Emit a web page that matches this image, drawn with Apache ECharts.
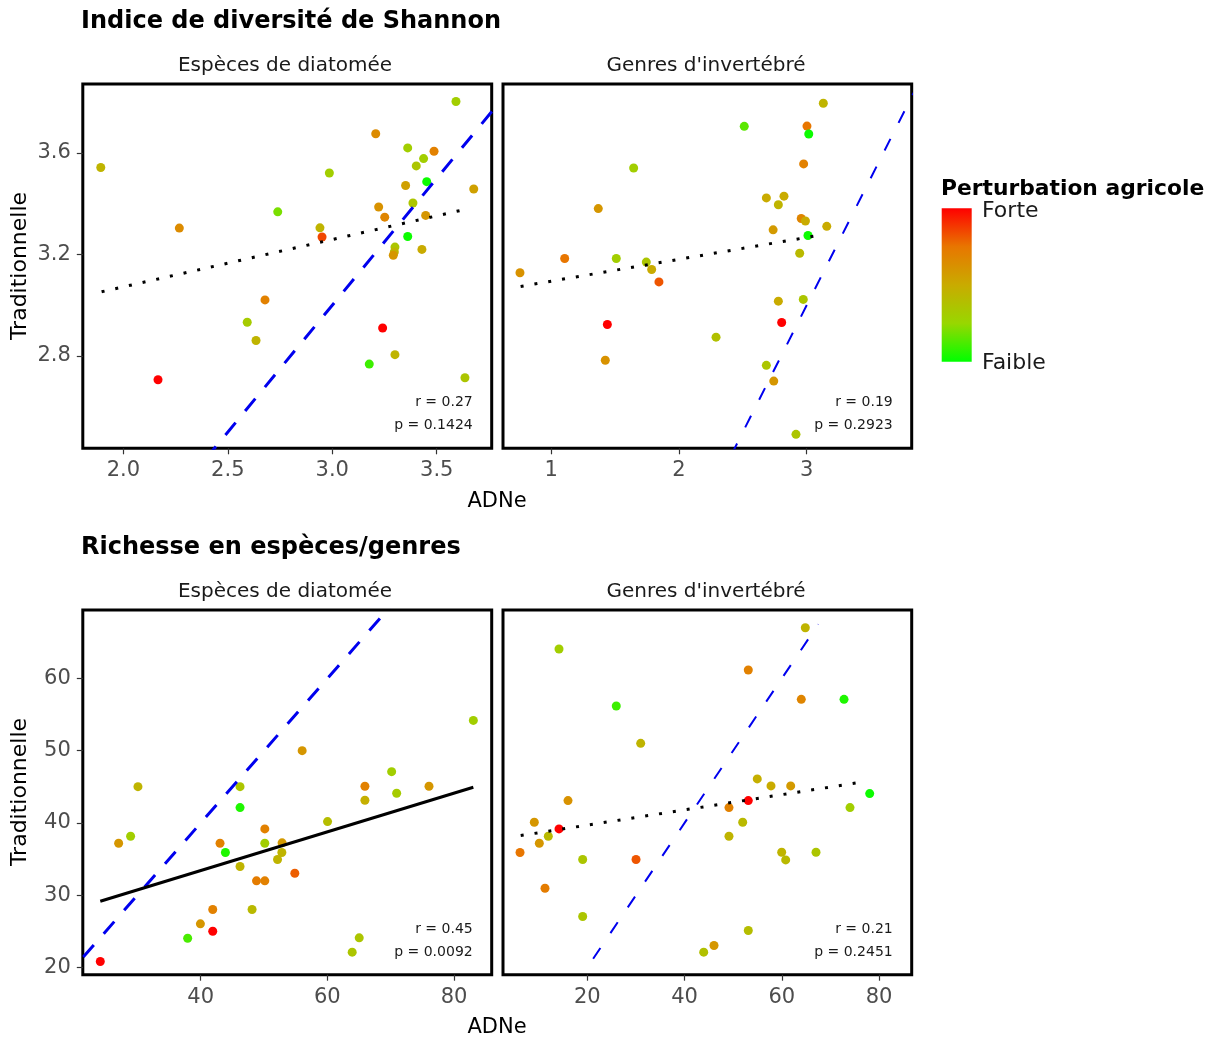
<!DOCTYPE html>
<html>
<head>
<meta charset="utf-8">
<script src="https://cdn.jsdelivr.net/npm/echarts@6/dist/echarts.min.js"></script>
<style>
html,body{margin:0;padding:0;background:#ffffff;}
#chart{width:1214px;height:1041px;}
</style>
</head>
<body>
<div id="chart"></div>
<script>
// ---------------- DATA ----------------
const sectionTitles = ['Indice de diversité de Shannon', 'Richesse en espèces/genres'];
const facetTitles = ['Espèces de diatomée', "Genres d'invertébré"];
const xAxisTitle = 'ADNe';
const yAxisTitle = 'Traditionnelle';
const legendTitle = 'Perturbation agricole';
const legendHigh = 'Forte';
const legendLow = 'Faible';

// tick labels
const xTicksShannonDiatom = [2.0, 2.5, 3.0, 3.5];
const xTicksShannonInvert = [1, 2, 3];
const yTicksShannon = [2.8, 3.2, 3.6];
const xTicksRichDiatom = [40, 60, 80];
const xTicksRichInvert = [20, 40, 60, 80];
const yTicksRich = [20, 30, 40, 50, 60];

// points: [ADNe, Traditionnelle, perturbation agricole (0 = faible, 1 = forte)]
const shannonDiatom = [
  [1.892, 3.543, 0.45], [2.739, 3.368, 0.20], [2.268, 3.304, 0.65], [2.678, 3.021, 0.70],
  [2.593, 2.933, 0.32], [2.635, 2.861, 0.45], [2.166, 2.706, 1.00], [3.592, 3.803, 0.30],
  [3.208, 3.676, 0.65], [3.361, 3.620, 0.30], [3.487, 3.607, 0.70], [3.437, 3.578, 0.30],
  [3.402, 3.549, 0.35], [2.986, 3.521, 0.30], [3.452, 3.487, 0.02], [3.351, 3.472, 0.55],
  [3.677, 3.458, 0.55], [3.386, 3.403, 0.35], [3.222, 3.387, 0.62], [3.251, 3.347, 0.68],
  [3.447, 3.354, 0.60], [2.941, 3.305, 0.45], [2.951, 3.269, 0.85], [3.361, 3.271, 0.02],
  [3.300, 3.229, 0.35], [3.297, 3.210, 0.45], [3.292, 3.197, 0.60], [3.429, 3.220, 0.50],
  [3.241, 2.910, 1.00], [3.300, 2.805, 0.45], [3.177, 2.768, 0.10], [3.635, 2.714, 0.35]
];
const shannonInvert = [
  [1.645, 3.541, 0.30], [1.368, 3.381, 0.60], [1.105, 3.184, 0.75], [1.509, 3.184, 0.30],
  [1.744, 3.170, 0.35], [1.786, 3.141, 0.50], [1.843, 3.092, 0.82], [0.755, 3.128, 0.62],
  [1.439, 2.924, 1.00], [1.423, 2.783, 0.62], [2.290, 2.874, 0.38], [3.130, 3.796, 0.45],
  [2.511, 3.705, 0.15], [3.002, 3.706, 0.75], [3.016, 3.675, 0.02], [2.976, 3.557, 0.70],
  [2.684, 3.423, 0.50], [2.822, 3.430, 0.50], [2.778, 3.396, 0.45], [2.957, 3.342, 0.68],
  [2.990, 3.332, 0.50], [2.737, 3.297, 0.58], [3.157, 3.311, 0.50], [3.010, 3.275, 0.02],
  [2.945, 3.205, 0.42], [2.778, 3.016, 0.50], [2.973, 3.023, 0.35], [2.804, 2.932, 1.00],
  [2.684, 2.763, 0.35], [2.742, 2.701, 0.60], [2.916, 2.491, 0.35]
];
const richDiatom = [
  [24.14, 20.83, 1.00], [30.09, 45.03, 0.45], [27.04, 37.19, 0.60], [28.93, 38.16, 0.30],
  [46.21, 45.03, 0.35], [46.21, 42.13, 0.05], [43.05, 37.19, 0.70], [43.90, 35.91, 0.05],
  [50.12, 39.18, 0.70], [50.12, 37.19, 0.30], [46.21, 33.97, 0.45], [48.81, 31.99, 0.72],
  [50.12, 31.99, 0.70], [52.85, 37.25, 0.58], [52.81, 35.91, 0.45], [52.13, 34.94, 0.45],
  [41.90, 28.02, 0.70], [48.11, 28.02, 0.42], [39.95, 26.04, 0.60], [41.90, 25.02, 1.00],
  [37.94, 24.05, 0.12], [83.05, 54.20, 0.30], [56.02, 50.01, 0.60], [70.15, 47.10, 0.30],
  [65.93, 45.08, 0.70], [76.05, 45.08, 0.60], [70.94, 44.11, 0.32], [65.93, 43.14, 0.48],
  [60.03, 40.19, 0.40], [54.86, 33.04, 0.80], [65.03, 24.10, 0.35], [63.92, 22.12, 0.35]
];
const richInvert = [
  [14.18, 64.08, 0.30], [25.96, 56.20, 0.10], [30.98, 51.02, 0.45], [16.03, 43.10, 0.62],
  [9.10, 40.10, 0.60], [14.18, 39.18, 1.00], [11.98, 38.16, 0.42], [10.13, 37.19, 0.60],
  [6.16, 35.91, 0.75], [19.05, 34.94, 0.35], [30.02, 34.94, 0.82], [11.30, 30.97, 0.72],
  [19.05, 27.05, 0.35], [43.94, 22.12, 0.38], [64.84, 67.03, 0.45], [53.11, 61.18, 0.70],
  [64.01, 57.11, 0.68], [72.80, 57.11, 0.05], [54.96, 46.10, 0.48], [57.78, 45.13, 0.50],
  [61.83, 45.13, 0.58], [78.08, 44.07, 0.02], [49.14, 42.13, 0.70], [53.11, 43.10, 1.00],
  [74.03, 42.13, 0.30], [51.96, 40.10, 0.42], [49.14, 38.16, 0.45], [59.98, 35.95, 0.45],
  [60.80, 34.89, 0.42], [67.04, 35.95, 0.35], [53.11, 25.12, 0.40], [46.06, 23.04, 0.60]
];

// regression lines (endpoints)
const fitShannonDiatom = [[1.896, 3.053], [3.659, 3.382]];
const fitShannonInvert = [[0.760, 3.074], [3.136, 3.279]];
const fitRichDiatom = [[24.14, 29.17], [83.05, 44.94]];
const fitRichInvert = [[6.3, 38.26], [77.12, 45.73]];

// 1:1 reference lines (y = x)
const identityShannonDiatom = [[2.3, 2.3], [3.9, 3.9]];
const identityShannonInvert = [[2.3, 2.3], [3.9, 3.9]];
const identityRichDiatom = [[15, 15], [75, 75]];
const identityRichInvert = [[21.2, 21.2], [67.5, 67.5]];

// correlation statistics
const statsShannonDiatom = ['r = 0.27', 'p = 0.1424'];
const statsShannonInvert = ['r = 0.19', 'p = 0.2923'];
const statsRichDiatom = ['r = 0.45', 'p = 0.0092'];
const statsRichInvert = ['r = 0.21', 'p = 0.2451'];

// ---------------- LAYOUT / STYLE ----------------
const FONT = '"DejaVu Sans", sans-serif';
const gradientColors = ['#00FF00', '#98D700', '#C9AB00', '#E87600', '#FF0000'];

const panels = [
  { grid: {left: 82.8, top: 84, width: 408.9, height: 364.3},
    x: [1.806, 3.763], y: [2.436, 3.872], xTicks: xTicksShannonDiatom, yTicks: yTicksShannon,
    xDec: 1, yDec: 1, pts: shannonDiatom, fit: fitShannonDiatom, fitSolid: false,
    id: identityShannonDiatom, idW: 3, idDash: [16, 15], stats: statsShannonDiatom, showY: true },
  { grid: {left: 503, top: 84, width: 408.7, height: 364.3},
    x: [0.622, 3.822], y: [2.436, 3.872], xTicks: xTicksShannonInvert, yTicks: yTicksShannon,
    xDec: 0, yDec: 1, pts: shannonInvert, fit: fitShannonInvert, fitSolid: false,
    id: identityShannonInvert, idW: 2, idDash: [13, 18], stats: statsShannonInvert, showY: false },
  { grid: {left: 82.8, top: 610, width: 408.9, height: 364.7},
    x: [21.38, 85.95], y: [19.0, 69.48], xTicks: xTicksRichDiatom, yTicks: yTicksRich,
    xDec: 0, yDec: 0, pts: richDiatom, fit: fitRichDiatom, fitSolid: true,
    id: identityRichDiatom, idW: 3, idDash: [16, 15], stats: statsRichDiatom, showY: true },
  { grid: {left: 503, top: 610, width: 408.7, height: 364.7},
    x: [2.66, 86.72], y: [19.0, 69.48], xTicks: xTicksRichInvert, yTicks: yTicksRich,
    xDec: 0, yDec: 0, pts: richInvert, fit: fitRichInvert, fitSolid: false,
    id: identityRichInvert, idW: 2, idDash: [13, 18], stats: statsRichInvert, showY: false }
];

const grids = [], xAxes = [], yAxes = [], series = [], scatterIdx = [], graphics = [];

panels.forEach((p, i) => {
  grids.push(Object.assign({ show: true, borderColor: '#000', borderWidth: 3,
    backgroundColor: 'transparent', containLabel: false, outerBoundsMode: 'none' }, p.grid));
  xAxes.push({
    gridIndex: i, type: 'value', min: p.x[0], max: p.x[1],
    splitLine: {show: false}, axisLine: {show: false},
    axisTick: {show: true, length: 6, customValues: p.xTicks, lineStyle: {color: '#333', width: 1.2}},
    axisLabel: {show: true, customValues: p.xTicks, margin: 12, color: '#4d4d4d',
      fontSize: 21, fontFamily: FONT, formatter: v => Number(v).toFixed(p.xDec)}
  });
  yAxes.push({
    gridIndex: i, type: 'value', min: p.y[0], max: p.y[1],
    splitLine: {show: false}, axisLine: {show: false},
    axisTick: {show: p.showY, length: 6, customValues: p.yTicks, lineStyle: {color: '#333', width: 1.2}},
    axisLabel: {show: p.showY, customValues: p.yTicks, margin: 12, color: '#4d4d4d',
      fontSize: 21, fontFamily: FONT, formatter: v => Number(v).toFixed(p.yDec)}
  });
  scatterIdx.push(series.length);
  series.push({
    type: 'scatter', xAxisIndex: i, yAxisIndex: i, data: p.pts,
    symbol: 'circle', symbolSize: 9, z: 3, silent: true,
    itemStyle: {opacity: 1}
  });
  series.push({
    type: 'line', xAxisIndex: i, yAxisIndex: i, data: p.fit, symbol: 'none', z: 5, silent: true,
    clip: true,
    lineStyle: {color: '#000', width: 3, type: p.fitSolid ? 'solid' : [3, 11]}
  });
  series.push({
    type: 'line', xAxisIndex: i, yAxisIndex: i, data: p.id, symbol: 'none', z: 4, silent: true,
    clip: true,
    lineStyle: {color: '#0000EE', width: p.idW, type: p.idDash}
  });
  // statistics text
  const rightX = p.grid.left + p.grid.width - 19;
  const bottomY = p.grid.top + p.grid.height;
  graphics.push({type: 'text', x: rightX, y: bottomY - 45.5, z: 10,
    style: {text: p.stats[0], align: 'right', verticalAlign: 'middle', fontSize: 14, fontFamily: FONT, fill: '#1a1a1a'}});
  graphics.push({type: 'text', x: rightX, y: bottomY - 22.6, z: 10,
    style: {text: p.stats[1], align: 'right', verticalAlign: 'middle', fontSize: 14, fontFamily: FONT, fill: '#1a1a1a'}});
});

// section titles, facet strips, axis titles
[0, 1].forEach(r => {
  const off = r * 526;
  graphics.push({type: 'text', x: 81, y: 22 + off,
    style: {text: sectionTitles[r], align: 'left', verticalAlign: 'middle',
      fontSize: 24, fontWeight: 'bold', fontFamily: FONT, fill: '#000'}});
  graphics.push({type: 'text', x: 285, y: 66 + off,
    style: {text: facetTitles[0], align: 'center', verticalAlign: 'middle',
      fontSize: 20, fontFamily: FONT, fill: '#1a1a1a'}});
  graphics.push({type: 'text', x: 706, y: 66 + off,
    style: {text: facetTitles[1], align: 'center', verticalAlign: 'middle',
      fontSize: 20, fontFamily: FONT, fill: '#1a1a1a'}});
  graphics.push({type: 'text', x: 20, y: 266 + off, rotation: Math.PI / 2,
    style: {text: yAxisTitle, align: 'center', verticalAlign: 'middle',
      fontSize: 22, fontFamily: FONT, fill: '#000'}});
  graphics.push({type: 'text', x: 497, y: 502 + off,
    style: {text: xAxisTitle, align: 'center', verticalAlign: 'middle',
      fontSize: 21, fontFamily: FONT, fill: '#000'}});
});

// colour legend
graphics.push({type: 'text', x: 941, y: 189,
  style: {text: legendTitle, align: 'left', verticalAlign: 'middle',
    fontSize: 21.8, fontWeight: 'bold', fontFamily: FONT, fill: '#000'}});
graphics.push({type: 'rect', shape: {x: 941.7, y: 208.3, width: 30, height: 153.4},
  style: {fill: {type: 'linear', x: 0, y: 0, x2: 0, y2: 1, colorStops:
    gradientColors.slice().reverse().map((c, k, arr) => ({offset: k / (arr.length - 1), color: c}))}}});
graphics.push({type: 'text', x: 982, y: 211,
  style: {text: legendHigh, align: 'left', verticalAlign: 'middle', fontSize: 22, fontFamily: FONT, fill: '#1a1a1a'}});
graphics.push({type: 'text', x: 982, y: 363.5,
  style: {text: legendLow, align: 'left', verticalAlign: 'middle', fontSize: 22, fontFamily: FONT, fill: '#1a1a1a'}});

const chart = echarts.init(document.getElementById('chart'), null, {renderer: 'canvas'});
chart.setOption({
  animation: false,
  backgroundColor: '#ffffff',
  grid: grids,
  xAxis: xAxes,
  yAxis: yAxes,
  visualMap: {
    type: 'continuous', show: false, min: 0, max: 1, dimension: 2,
    seriesIndex: scatterIdx, inRange: {color: gradientColors}
  },
  series: series,
  graphic: {elements: graphics}
});
</script>
</body>
</html>
